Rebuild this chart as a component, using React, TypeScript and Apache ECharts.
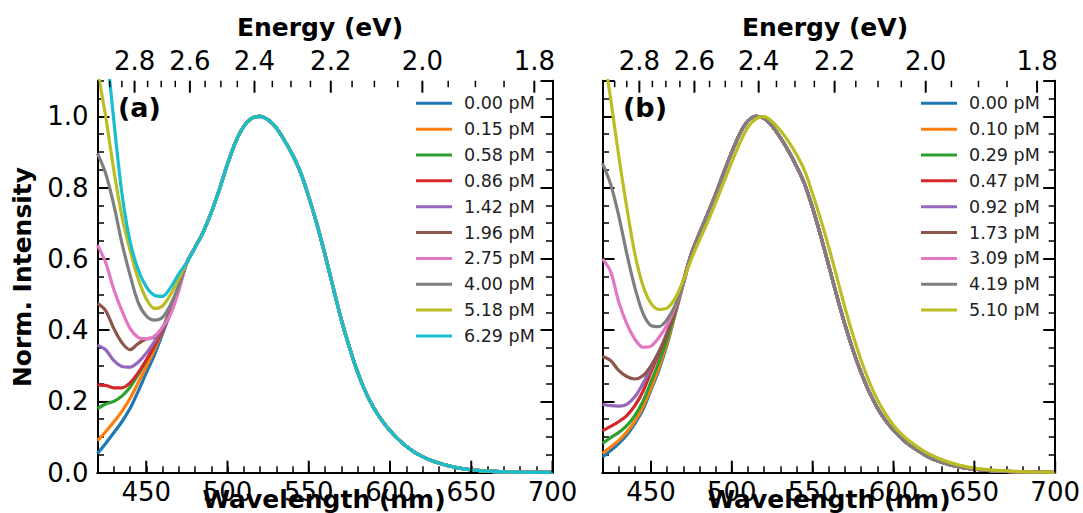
import React, { useEffect, useRef } from 'react';
import * as echarts from 'echarts';

// ---------- data ----------
const leftWl = [420, 425, 430, 435, 440, 445, 450, 455, 460, 465, 470];
const tailWl = [475, 480, 485, 490, 495, 500, 505, 510, 515, 520, 525, 530, 535, 540, 545, 550, 555, 560, 565, 570,
  575, 580, 585, 590, 595, 600, 605, 610, 615, 620, 625, 630, 640, 650, 660, 670, 680, 690, 700];

// panel (a) shared emission band (all curves overlap from ~475 nm)
const tailA = [0.59, 0.632, 0.675, 0.73, 0.795, 0.866, 0.928, 0.972, 0.995, 1.0, 0.99, 0.968, 0.933, 0.892, 0.842,
  0.774, 0.698, 0.612, 0.52, 0.43, 0.352, 0.283, 0.226, 0.182, 0.147, 0.118, 0.094, 0.074, 0.058, 0.045, 0.035,
  0.027, 0.015, 0.008, 0.0045, 0.0025, 0.0015, 0.001, 0.0008];
// panel (b) band for 0.00 - 4.19 pM
const tailB = [0.615, 0.672, 0.726, 0.782, 0.842, 0.9, 0.952, 0.987, 1.0, 0.994, 0.972, 0.94, 0.903, 0.86, 0.81,
  0.742, 0.664, 0.58, 0.495, 0.415, 0.343, 0.28, 0.226, 0.182, 0.147, 0.119, 0.096, 0.077, 0.062, 0.048, 0.037,
  0.029, 0.017, 0.01, 0.006, 0.0035, 0.002, 0.0012, 0.001];
// panel (b) band for 5.10 pM (slightly red shifted)
const tailBOlive = [0.6, 0.653, 0.703, 0.758, 0.815, 0.872, 0.926, 0.97, 0.993, 0.999, 0.985, 0.96, 0.93, 0.893, 0.848,
  0.782, 0.71, 0.632, 0.548, 0.463, 0.385, 0.315, 0.255, 0.205, 0.166, 0.133, 0.108, 0.088, 0.072, 0.058, 0.046,
  0.036, 0.022, 0.013, 0.008, 0.005, 0.003, 0.002, 0.0015];

// panel (a) short-wavelength parts (420..470 nm)
const a000 = [0.054, 0.082, 0.112, 0.143, 0.18, 0.228, 0.28, 0.33, 0.39, 0.45, 0.52];
const a015 = [0.09, 0.115, 0.142, 0.172, 0.208, 0.252, 0.298, 0.345, 0.4, 0.458, 0.525];
const a058 = [0.18, 0.193, 0.2, 0.215, 0.24, 0.275, 0.315, 0.355, 0.405, 0.46, 0.525];
const a086 = [0.246, 0.245, 0.238, 0.238, 0.252, 0.28, 0.316, 0.355, 0.4, 0.455, 0.52];
const a142 = [0.358, 0.345, 0.315, 0.298, 0.296, 0.31, 0.335, 0.368, 0.405, 0.455, 0.52];
const a196 = [0.475, 0.455, 0.405, 0.365, 0.345, 0.362, 0.375, 0.38, 0.405, 0.45, 0.515];
const a275 = [0.639, 0.59, 0.515, 0.455, 0.405, 0.38, 0.376, 0.383, 0.408, 0.445, 0.51];
const a400 = [0.896, 0.84, 0.752, 0.645, 0.555, 0.478, 0.44, 0.428, 0.436, 0.472, 0.525];
const a518 = [1.13, 1.0, 0.85, 0.72, 0.625, 0.545, 0.488, 0.461, 0.468, 0.5, 0.545];
const a629 = [1.5, 1.22, 0.99, 0.785, 0.65, 0.57, 0.522, 0.498, 0.495, 0.52, 0.558];

// panel (b) short-wavelength parts (420..470 nm)
const b000 = [0.044, 0.062, 0.082, 0.106, 0.138, 0.177, 0.232, 0.29, 0.36, 0.445, 0.53];
const b010 = [0.054, 0.072, 0.09, 0.114, 0.145, 0.185, 0.238, 0.297, 0.365, 0.447, 0.532];
const b029 = [0.082, 0.098, 0.113, 0.132, 0.16, 0.2, 0.255, 0.312, 0.375, 0.452, 0.535];
const b047 = [0.118, 0.13, 0.143, 0.16, 0.188, 0.228, 0.283, 0.335, 0.39, 0.46, 0.538];
const b092 = [0.192, 0.188, 0.187, 0.192, 0.213, 0.25, 0.295, 0.34, 0.395, 0.462, 0.54];
const b173 = [0.327, 0.315, 0.287, 0.27, 0.263, 0.272, 0.3, 0.34, 0.39, 0.455, 0.535];
const b309 = [0.6, 0.565, 0.48, 0.418, 0.375, 0.352, 0.355, 0.38, 0.415, 0.465, 0.53];
const b419 = [0.868, 0.81, 0.722, 0.615, 0.52, 0.448, 0.413, 0.41, 0.43, 0.47, 0.53];
const b510 = [1.2, 1.05, 0.89, 0.745, 0.615, 0.525, 0.475, 0.458, 0.462, 0.49, 0.54];

const labelsA = ['0.00 pM', '0.15 pM', '0.58 pM', '0.86 pM', '1.42 pM', '1.96 pM', '2.75 pM', '4.00 pM', '5.18 pM', '6.29 pM'];
const labelsB = ['0.00 pM', '0.10 pM', '0.29 pM', '0.47 pM', '0.92 pM', '1.73 pM', '3.09 pM', '4.19 pM', '5.10 pM'];
const leftA = [a000, a015, a058, a086, a142, a196, a275, a400, a518, a629];
const leftB = [b000, b010, b029, b047, b092, b173, b309, b419, b510];

const colors = ['#1f77b4', '#ff7f0e', '#2ca02c', '#d62728', '#9467bd', '#8c564b', '#e377c2', '#7f7f7f', '#bcbd22', '#17becf'];

const xMajorTicks = [450, 500, 550, 600, 650, 700];
const energyMajor = [2.8, 2.6, 2.4, 2.2, 2.0, 1.8];
const energyMinor = [2.95, 2.9, 2.85, 2.75, 2.7, 2.65, 2.55, 2.5, 2.45, 2.35, 2.3, 2.25, 2.15, 2.1, 2.05, 1.95, 1.9, 1.85];

const X_MIN = 420;
const X_MAX = 700;
const Y_MAX = 1.1;
const HC = 1239.84; // eV*nm, wavelength <-> energy

// ---------- layout ----------
const FONT = 'DejaVu Sans';
const TICK_FS = 26;
const GRIDS = [
  { left: 97.5, top: 80.7, width: 455, height: 392 },
  { left: 602.5, top: 80.7, width: 455, height: 392 },
];
const MAJOR_LEN = 12;
const MINOR_LEN = 6.5;

function buildOption() {
  const xAxis: any[] = [];
  const yAxis: any[] = [];
  const series: any[] = [];
  const legend: any[] = [];
  const graphic: any[] = [];

  GRIDS.forEach((g, gi) => {
    const xb = xAxis.length;
    xAxis.push({
      type: 'value', gridIndex: gi, position: 'bottom', min: X_MIN, max: X_MAX, interval: 10,
      axisLine: { show: true, lineStyle: { color: '#000', width: 2 } },
      axisTick: { show: true, inside: true, length: MINOR_LEN, lineStyle: { color: '#000', width: 1.5 } },
      splitLine: { show: false },
      axisLabel: {
        show: true, margin: 6, fontSize: TICK_FS, fontFamily: FONT, color: '#000',
        formatter: (v: number) => (Math.round(v) % 50 === 0 && v >= 450 ? String(Math.round(v)) : ''),
      },
    });
    xAxis.push({
      type: 'value', gridIndex: gi, position: 'top', min: X_MIN, max: X_MAX,
      axisLine: { show: true, lineStyle: { color: '#000', width: 2 } },
      axisTick: { show: false }, axisLabel: { show: false }, splitLine: { show: false },
    });
    const yb = yAxis.length;
    const sides: any[] = ['left', 'right'];
    sides.forEach((side) => {
      yAxis.push({
        type: 'value', gridIndex: gi, position: side, min: 0, max: Y_MAX, interval: 0.2,
        axisLine: { show: true, lineStyle: { color: '#000', width: 2 } },
        axisTick: { show: true, inside: true, length: MAJOR_LEN, lineStyle: { color: '#000', width: 2 } },
        splitLine: { show: false },
        axisLabel: {
          show: gi === 0 && side === 'left', margin: 9, fontSize: TICK_FS, fontFamily: FONT, color: '#000',
          showMaxLabel: false, formatter: (v: number) => v.toFixed(1),
        },
      });
      yAxis.push({
        type: 'value', gridIndex: gi, position: side, min: 0, max: Y_MAX, interval: 0.05,
        axisLine: { show: false },
        axisTick: { show: true, inside: true, length: MINOR_LEN, lineStyle: { color: '#000', width: 1.5 } },
        splitLine: { show: false }, axisLabel: { show: false },
      });
    });

    const labels = gi === 0 ? labelsA : labelsB;
    const lefts = gi === 0 ? leftA : leftB;
    const prefix = gi === 0 ? 'a|' : 'b|';
    labels.forEach((lab, i) => {
      const tail = gi === 0 ? tailA : (i === 8 ? tailBOlive : tailB);
      const data = leftWl.map((w, j) => [w, lefts[i][j]]).concat(tailWl.map((w, j) => [w, tail[j]]));
      series.push({
        type: 'line', name: prefix + lab, xAxisIndex: xb, yAxisIndex: yb, data,
        showSymbol: false, symbol: 'none', smooth: 0.3, color: colors[i],
        lineStyle: { width: 3.2, color: colors[i] }, clip: true, silent: true,
      });
    });

    // major wavelength ticks (bottom)
    series.push({
      type: 'custom', xAxisIndex: xb, yAxisIndex: yb, silent: true, clip: false, z: 5,
      data: xMajorTicks.map((v) => [v, 0]),
      renderItem: (_p: any, api: any) => {
        const p = api.coord([api.value(0), 0]);
        return { type: 'line', shape: { x1: p[0], y1: p[1], x2: p[0], y2: p[1] - MAJOR_LEN }, style: { stroke: '#000', lineWidth: 2 } };
      },
    });

    // energy axis (top)
    const eTicks = energyMajor.map((e) => [e, 1]).concat(energyMinor.map((e) => [e, 0]));
    series.push({
      type: 'custom', xAxisIndex: xb, yAxisIndex: yb, silent: true, clip: false, z: 5,
      data: eTicks,
      renderItem: (_p: any, api: any) => {
        const e = api.value(0);
        const major = api.value(1) === 1;
        const p = api.coord([HC / e, Y_MAX]);
        const children: any[] = [{
          type: 'line', shape: { x1: p[0], y1: p[1], x2: p[0], y2: p[1] + (major ? MAJOR_LEN : MINOR_LEN) },
          style: { stroke: '#000', lineWidth: major ? 2 : 1.5 },
        }];
        if (major) {
          children.push({
            type: 'text', x: p[0], y: p[1] - 19.5,
            style: { text: e.toFixed(1), fontSize: TICK_FS, fontFamily: FONT, fill: '#000', align: 'center', verticalAlign: 'middle' },
          });
        }
        return { type: 'group', children };
      },
    });

    legend.push({
      data: labels.map((l) => prefix + l), orient: 'vertical',
      left: g.left + 318.5, top: 93.3,
      itemWidth: 36, itemHeight: 3, itemGap: 5.85, icon: 'rect', selectedMode: false, padding: 0,
      formatter: (n: string) => n.split('|')[1],
      textStyle: { fontSize: 17.5, fontFamily: FONT, color: '#222', lineHeight: 20, padding: [0, 0, 0, 7] },
    });

    const cx = g.left + g.width / 2;
    graphic.push({
      type: 'text', x: cx - 5, y: 27,
      style: { text: 'Energy (eV)', fontSize: 25, fontWeight: 'bold', fontFamily: FONT, fill: '#000', align: 'center', verticalAlign: 'middle' },
    });
    graphic.push({
      type: 'text', x: cx - 1, y: 499,
      style: { text: 'Wavelength (nm)', fontSize: 25, fontWeight: 'bold', fontFamily: FONT, fill: '#000', align: 'center', verticalAlign: 'middle' },
    });
    graphic.push({
      type: 'text', x: g.left + 20.5, y: 107,
      style: { text: gi === 0 ? '(a)' : '(b)', fontSize: 27, fontWeight: 'bold', fontFamily: FONT, fill: '#000', align: 'left', verticalAlign: 'middle' },
    });
  });

  graphic.push({
    type: 'text', x: 22.5, y: 277, rotation: Math.PI / 2,
    style: { text: 'Norm. Intensity', fontSize: 25, fontWeight: 'bold', fontFamily: FONT, fill: '#000', align: 'center', verticalAlign: 'middle' },
  });

  return {
    animation: false,
    backgroundColor: '#fff',
    grid: GRIDS.map((g) => ({ ...g, containLabel: false })),
    xAxis, yAxis, series, legend, graphic,
  };
}

export default function App() {
  const ref = useRef<HTMLDivElement>(null);
  useEffect(() => {
    if (!ref.current) return;
    const chart = echarts.init(ref.current, undefined, { renderer: 'svg' });
    chart.setOption(buildOption() as any);
    return () => chart.dispose();
  }, []);
  return <div ref={ref} style={{ position: 'fixed', left: 0, top: 0, width: 1083, height: 513 }} />;
}
